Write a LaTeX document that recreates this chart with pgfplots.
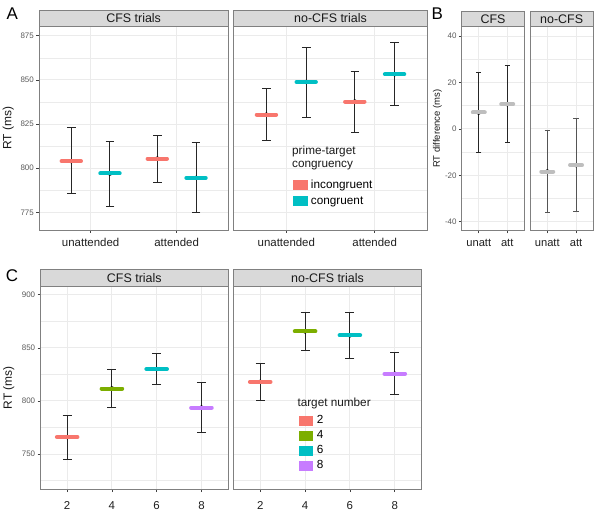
\documentclass[border=0pt]{standalone}
\usepackage{pgfplots}
\pgfplotsset{compat=1.18}
\usepackage{pgfplotstable}
\usepackage{fontspec}
\setmainfont{Liberation Sans}
\definecolor{cinc}{HTML}{F8766D}
\definecolor{ccon}{HTML}{00BFC4}
\definecolor{cgreen}{HTML}{7CAE00}
\definecolor{cpurp}{HTML}{C77CFF}
\definecolor{cgray}{HTML}{BEBEBE}
\definecolor{gridc}{HTML}{EBEBEB}
\definecolor{borderc}{HTML}{808080}
\definecolor{stripc}{HTML}{D9D9D9}
\definecolor{tickc}{HTML}{5A5A5A}
\definecolor{barc}{HTML}{262626}
\definecolor{barc2}{HTML}{555555}

% Panel A
\pgfplotstableread{
x m lo hi
0.775 804.0 785.5 823.0
1.775 805.4 792.0 818.7
}\AcfsInc
\pgfplotstableread{
x m lo hi
1.225 797.0 778.3 815.3
2.225 794.5 774.8 814.5
}\AcfsCon
\pgfplotstableread{
x m lo hi
0.775 830.3 815.8 844.9
1.775 837.7 820.4 854.9
}\AnoInc
\pgfplotstableread{
x m lo hi
1.225 848.8 828.8 868.4
2.225 853.2 835.4 870.9
}\AnoCon
% Panel B
\pgfplotstableread{
x m lo hi
1 7.1 -10.0 24.3
2 10.7 -6.0 27.4
}\Bcfs
\pgfplotstableread{
x m lo hi
1 -18.4 -36.1 -0.6
2 -15.6 -35.6 4.4
}\Bno
% Panel C
\pgfplotstableread{
x m lo hi c
1 766.0 745.3 786.7 a
2 811.7 793.7 829.8 b
3 830.0 815.7 844.4 c
4 793.7 770.1 817.5 d
}\Ccfs
\pgfplotstableread{
x m lo hi c
1 818.0 800.2 835.7 a
2 865.5 847.2 883.0 b
3 861.8 839.7 883.6 c
4 825.6 805.6 845.4 d
}\Cno

\pgfplotsset{
  facet/.style={scale only axis, anchor=north west,
    axis line style={draw=borderc, line width=0.8bp},
    tick align=outside, major tick length=2.75bp, minor tick length=0pt,
    tick style={draw=black!75, line width=0.6bp},
    xtick pos=left, ytick pos=left,
    xmajorgrids, ymajorgrids, yminorgrids,
    major grid style={draw=gridc, line width=1bp},
    minor grid style={draw=gridc, line width=0.5bp},
    /pgf/number format/assume math mode=true,
    yticklabel style={font=\fontsize{8}{9}\selectfont, text=tickc, inner sep=0pt, xshift=-2.2bp},
    xticklabel style={font=\fontsize{11.5}{13}\selectfont, text=black!88, inner sep=0pt, yshift=-5.5bp},
    ylabel style={font=\fontsize{12}{14}\selectfont, text=black!90, anchor=center},
    legend style={draw=none, fill=none, inner sep=0pt, outer sep=0pt, anchor=north west,
      font=\fontsize{11.8}{13}\selectfont, column sep=4bp,
      nodes={inner sep=0pt, text height=8.5bp, text depth=2.5bp}},
    legend cell align=left,
  },
  noyticks/.style={yticklabels={}, ytick style={draw=none}},
  meanm/.style={forget plot, only marks, mark=-, mark size=#1, mark options={line width=4bp, line cap=round}},
  errb/.style 2 args={forget plot, only marks, mark=none, error bars/.cd, y dir=both, y explicit,
    error bar style={draw=#1, line width=1bp},
    error mark options={draw=#1, line width=1bp, mark size=#2, rotate=90}},
  key/.style={legend image code/.code={\fill[#1] (0bp,-4bp) rectangle (13.3bp,5bp);}},
  fourcol/.style={scatter, point meta=explicit symbolic,
    scatter/classes={a={draw=cinc}, b={draw=cgreen}, c={draw=ccon}, d={draw=cpurp}}},
}

\newcommand{\errplot}[3]{\addplot[errb={#2}{#3}] table[x=x, y=m, y error plus expr=\thisrow{hi}-\thisrow{m}, y error minus expr=\thisrow{m}-\thisrow{lo}] {#1};}

\begin{document}
\begin{tikzpicture}
\path[use as bounding box] (0bp,0bp) rectangle (600bp,-517bp);

% ---------- A: CFS ----------
\begin{axis}[facet, at={(39bp,-26bp)}, width=189.3bp, height=204bp,
  xmin=0.4, xmax=2.6, ymin=765, ymax=880.5,
  xtick={1,2}, xticklabels={unattended,attended},
  ytick={775,800,825,850,875}, minor ytick={787.5,812.5,837.5,862.5},
  ylabel={RT (ms)}, ylabel style={at={(axis description cs:-0.162,0.5)}}]
\errplot{\AcfsInc}{barc}{4.3bp}
\errplot{\AcfsCon}{barc}{4.3bp}
\addplot[meanm=9.7bp, color=cinc] table[x=x,y=m] {\AcfsInc};
\addplot[meanm=9.7bp, color=ccon] table[x=x,y=m] {\AcfsCon};
\end{axis}

% ---------- A: no-CFS ----------
\begin{axis}[facet, noyticks, at={(233.3bp,-26bp)}, width=194.4bp, height=204bp,
  xmin=0.4, xmax=2.6, ymin=765, ymax=880.5,
  xtick={1,2}, xticklabels={unattended,attended},
  ytick={775,800,825,850,875}, minor ytick={787.5,812.5,837.5,862.5},
  legend style={at={(0.3086,0.246)}, row sep=5bp}]
\errplot{\AnoInc}{barc}{4.3bp}
\errplot{\AnoCon}{barc}{4.3bp}
\addplot[meanm=9.7bp, color=cinc] table[x=x,y=m] {\AnoInc};
\addplot[meanm=9.7bp, color=ccon] table[x=x,y=m] {\AnoCon};
\addlegendimage{key=cinc}\addlegendentry{incongruent}
\addlegendimage{key=ccon}\addlegendentry{congruent}
\end{axis}

% ---------- B: CFS ----------
\begin{axis}[facet, at={(461.7bp,-26.7bp)}, width=62.6bp, height=204bp,
  xmin=0.4, xmax=2.6, ymin=-43.9, ymax=44.1,
  xtick={1,2}, xticklabels={unatt,att},
  xticklabel style={font=\fontsize{11.2}{13}\selectfont},
  ytick={-40,-20,0,20,40}, minor ytick={-30,-10,10,30},
  ylabel={RT difference (ms)},
  ylabel style={font=\fontsize{9.5}{11}\selectfont, at={(axis description cs:-0.387,0.5)}}]
\errplot{\Bcfs}{barc}{2.6bp}
\addplot[meanm=6bp, color=cgray] table[x=x,y=m] {\Bcfs};
\end{axis}

% ---------- B: no-CFS ----------
\begin{axis}[facet, noyticks, at={(530bp,-26.7bp)}, width=63.3bp, height=204bp,
  xmin=0.4, xmax=2.6, ymin=-43.9, ymax=44.1,
  xtick={1,2}, xticklabels={unatt,att},
  xticklabel style={font=\fontsize{11.2}{13}\selectfont},
  ytick={-40,-20,0,20,40}, minor ytick={-30,-10,10,30}]
\errplot{\Bno}{barc2}{2.6bp}
\addplot[meanm=6bp, color=cgray] table[x=x,y=m] {\Bno};
\end{axis}

% ---------- C: CFS ----------
\begin{axis}[facet, at={(40.3bp,-286bp)}, width=188bp, height=203.3bp,
  xmin=0.4, xmax=4.6, ymin=716.8, ymax=908.2,
  xtick={1,2,3,4}, xticklabels={2,4,6,8},
  xticklabel style={yshift=-4bp},
  ytick={750,800,850,900}, minor ytick={725,775,825,875},
  ylabel={RT (ms)}, ylabel style={at={(axis description cs:-0.168,0.5)}}]
\errplot{\Ccfs}{barc}{4.5bp}
\addplot[meanm=10.3bp, fourcol] table[x=x,y=m,meta=c] {\Ccfs};
\end{axis}

% ---------- C: no-CFS ----------
\begin{axis}[facet, noyticks, at={(233.3bp,-286bp)}, width=188.4bp, height=203.3bp,
  xmin=0.4, xmax=4.6, ymin=716.8, ymax=908.2,
  xtick={1,2,3,4}, xticklabels={2,4,6,8},
  xticklabel style={yshift=-4bp},
  ytick={750,800,850,900}, minor ytick={725,775,825,875},
  legend style={at={(0.349,0.3645)}, row sep=4bp}]
\errplot{\Cno}{barc}{4.5bp}
\addplot[meanm=10.3bp, fourcol] table[x=x,y=m,meta=c] {\Cno};
\addlegendimage{key=cinc}\addlegendentry{2}
\addlegendimage{key=cgreen}\addlegendentry{4}
\addlegendimage{key=ccon}\addlegendentry{6}
\addlegendimage{key=cpurp}\addlegendentry{8}
\end{axis}

% ---------- strips ----------
\begin{scope}[every node/.style={font=\fontsize{12.5}{14}\selectfont, text=black!90, inner sep=0pt}]
\draw[fill=stripc, draw=borderc, line width=0.8bp] (39bp,-10bp) rectangle (228.3bp,-26bp);
\node at (133.65bp,-18bp) {CFS trials};
\draw[fill=stripc, draw=borderc, line width=0.8bp] (233.3bp,-10bp) rectangle (427.7bp,-26bp);
\node at (330.5bp,-18bp) {no-CFS trials};
\draw[fill=stripc, draw=borderc, line width=0.8bp] (461.7bp,-11bp) rectangle (524.3bp,-26.7bp);
\node at (493bp,-18.85bp) {CFS};
\draw[fill=stripc, draw=borderc, line width=0.8bp] (530bp,-11bp) rectangle (593.3bp,-26.7bp);
\node at (561.65bp,-18.85bp) {no-CFS};
\draw[fill=stripc, draw=borderc, line width=0.8bp] (40.3bp,-269.3bp) rectangle (228.3bp,-286bp);
\node at (134.3bp,-277.65bp) {CFS trials};
\draw[fill=stripc, draw=borderc, line width=0.8bp] (233.3bp,-269.3bp) rectangle (421.7bp,-286bp);
\node at (327.5bp,-277.65bp) {no-CFS trials};
\end{scope}

% ---------- panel letters ----------
\begin{scope}[every node/.style={font=\fontsize{17}{20}\selectfont, anchor=base west, inner sep=0pt}]
\node at (6.5bp,-19.3bp) {A};
\node at (431.5bp,-19.3bp) {B};
\node at (5.8bp,-281bp) {C};
\end{scope}

% ---------- legend titles ----------
\begin{scope}[every node/.style={font=\fontsize{11.8}{13}\selectfont, anchor=base west, inner sep=0pt, text=black!90}]
\node at (292bp,-154bp) {prime-target};
\node at (292bp,-167.7bp) {congruency};
\node at (297.3bp,-406bp) {target number};
\end{scope}

\end{tikzpicture}
\end{document}
